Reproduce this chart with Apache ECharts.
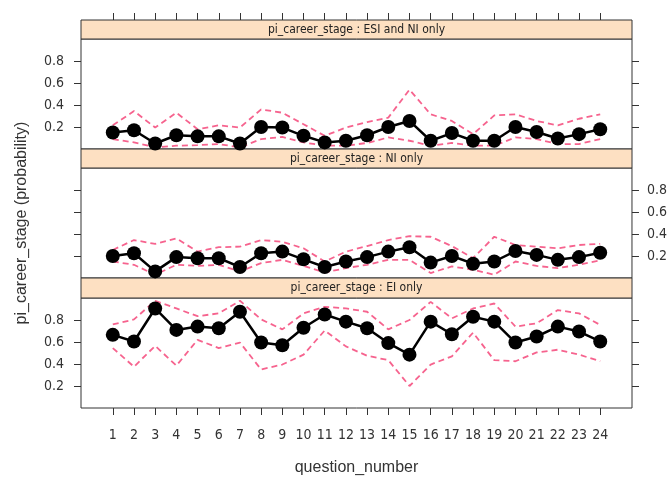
<!DOCTYPE html>
<html><head><meta charset="utf-8">
<script src="https://cdn.jsdelivr.net/npm/echarts@6/dist/echarts.min.js"></script>
<style>html,body{margin:0;padding:0;background:#fff}#c{width:670px;height:480px}</style>
</head><body><div id="c"></div>
<script>
const questionNumbers = [1,2,3,4,5,6,7,8,9,10,11,12,13,14,15,16,17,18,19,20,21,22,23,24];
const xTickLabels = ['1','2','3','4','5','6','7','8','9','10','11','12','13','14','15','16','17','18','19','20','21','22','23','24'];
const yTickValues = [0.2,0.4,0.6,0.8];
const panelNames = ['pi_career_stage : ESI and NI only','pi_career_stage : NI only','pi_career_stage : EI only'];

const esiNiMean  = [0.15,0.17,0.05,0.125,0.115,0.115,0.05,0.2,0.195,0.12,0.06,0.075,0.125,0.2,0.255,0.075,0.145,0.075,0.075,0.2,0.155,0.095,0.135,0.18];
const esiNiUpper = [0.215,0.345,0.195,0.33,0.18,0.215,0.195,0.36,0.33,0.225,0.12,0.195,0.245,0.285,0.54,0.315,0.255,0.135,0.305,0.315,0.255,0.215,0.275,0.315];
const esiNiLower = [0.09,0.06,0.015,0.03,0.035,0.045,0.015,0.09,0.11,0.06,0.03,0.03,0.055,0.105,0.075,0.03,0.055,0.03,0.03,0.105,0.09,0.045,0.045,0.09];

const niMean  = [0.2,0.225,0.06,0.19,0.18,0.18,0.1,0.225,0.24,0.17,0.1,0.15,0.19,0.24,0.28,0.14,0.2,0.13,0.15,0.245,0.21,0.165,0.19,0.23];
const niUpper = [0.255,0.345,0.31,0.36,0.24,0.28,0.285,0.345,0.33,0.27,0.15,0.24,0.29,0.345,0.38,0.375,0.29,0.18,0.375,0.3,0.285,0.27,0.3,0.31];
const niLower = [0.15,0.12,0.03,0.12,0.11,0.12,0.06,0.135,0.165,0.11,0.05,0.09,0.12,0.165,0.165,0.045,0.105,0.075,0.03,0.15,0.11,0.09,0.12,0.16];

const eiMean  = [0.665,0.605,0.905,0.71,0.74,0.725,0.875,0.595,0.57,0.73,0.85,0.785,0.725,0.59,0.485,0.785,0.67,0.83,0.785,0.595,0.65,0.74,0.695,0.605];
const eiUpper = [0.76,0.805,0.975,0.905,0.835,0.86,0.975,0.805,0.715,0.86,0.92,0.905,0.875,0.715,0.8,0.965,0.815,0.905,0.95,0.74,0.77,0.89,0.86,0.755];
const eiLower = [0.545,0.375,0.565,0.385,0.62,0.545,0.595,0.35,0.395,0.485,0.705,0.56,0.475,0.435,0.2,0.395,0.47,0.685,0.435,0.425,0.505,0.53,0.485,0.425];

const panels = [
  {mean: esiNiMean, upper: esiNiUpper, lower: esiNiLower, labelSide: 'left'},
  {mean: niMean, upper: niUpper, lower: niLower, labelSide: 'right'},
  {mean: eiMean, upper: eiUpper, lower: eiLower, labelSide: 'left'}
];

const NARROW = "'DejaVu Sans Condensed','Liberation Sans Narrow','Liberation Sans',sans-serif";
const FONT = "'Liberation Sans',Arial,sans-serif";
const L = 81, W = 551;
const panelTop = [39, 168, 298], panelH = [110, 110, 110];
const stripTop = [20, 149, 278], stripH = [19, 19, 20];
const lineCol = '#333';
const bandCol = '#f5487a';

const grids = [], xAxes = [], yAxes = [], series = [], graphics = [];
panels.forEach((p, i) => {
  grids.push({left: L, top: panelTop[i], width: W, height: panelH[i], show: true, borderColor: lineCol, borderWidth: 1, backgroundColor: 'transparent'});
  const isTop = i === 0, isBottom = i === 2;
  xAxes.push({
    type: 'value', gridIndex: i, min: -0.5, max: 25.5,
    position: isTop ? 'top' : 'bottom', offset: isTop ? stripH[0] : 0,
    axisLine: {show: false, onZero: false},
    axisTick: {show: isTop || isBottom, inside: false, length: 7, customValues: questionNumbers, lineStyle: {color: lineCol, width: 1}},
    axisLabel: {show: isBottom, customValues: questionNumbers, formatter: v => xTickLabels[questionNumbers.indexOf(v)] || '', margin: 20, fontSize: 14, color: '#333', fontFamily: NARROW},
    splitLine: {show: false}
  });
  ['left', 'right'].forEach(side => {
    const showLab = p.labelSide === side;
    yAxes.push({
      type: 'value', gridIndex: i, min: 0, max: 1, position: side,
      axisLine: {show: false, onZero: false},
      axisTick: {show: true, inside: false, length: 7, customValues: yTickValues, lineStyle: {color: lineCol, width: 1}},
      axisLabel: {show: showLab, customValues: yTickValues, formatter: v => v.toFixed(1), margin: side === 'left' ? 17 : 15, fontSize: 14, color: '#333', fontFamily: NARROW},
      splitLine: {show: false}
    });
  });
  const toData = arr => questionNumbers.map((q, k) => [q, arr[k]]);
  ['upper', 'lower'].forEach(key => {
    series.push({
      type: 'line', xAxisIndex: i, yAxisIndex: i * 2, data: toData(p[key]), symbol: 'none', silent: true,
      lineStyle: {color: bandCol, width: 1.8, type: [6, 4], opacity: 0.85}, z: 2
    });
  });
  series.push({
    type: 'line', xAxisIndex: i, yAxisIndex: i * 2, data: toData(p.mean), symbol: 'circle', symbolSize: 14, clip: false,
    lineStyle: {color: '#000', width: 2.5}, itemStyle: {color: '#000'}, z: 3
  });
  graphics.push({
    type: 'rect', shape: {x: L, y: stripTop[i], width: W, height: stripH[i]},
    style: {fill: '#fde0c2', stroke: lineCol, lineWidth: 1}, z: 1
  });
  graphics.push({
    type: 'text', x: L + W / 2, y: stripTop[i] + stripH[i] / 2,
    style: {text: panelNames[i], fill: '#222', font: '12px ' + NARROW, textAlign: 'center', textVerticalAlign: 'middle'}, z: 1
  });
});
graphics.push({
  type: 'text', x: 22, y: 223, rotation: Math.PI / 2,
  style: {text: 'pi_career_stage (probability)', fill: '#333', font: '16px ' + FONT, textAlign: 'center', textVerticalAlign: 'middle'}
});
graphics.push({
  type: 'text', x: L + W / 2, y: 468,
  style: {text: 'question_number', fill: '#333', font: '16px ' + FONT, textAlign: 'center', textVerticalAlign: 'middle'}
});

const chart = echarts.init(document.getElementById('c'), null, {renderer: 'canvas'});
chart.setOption({
  animation: false,
  backgroundColor: '#fff',
  grid: grids, xAxis: xAxes, yAxis: yAxes, series: series, graphic: graphics
});
</script>
</body></html>
